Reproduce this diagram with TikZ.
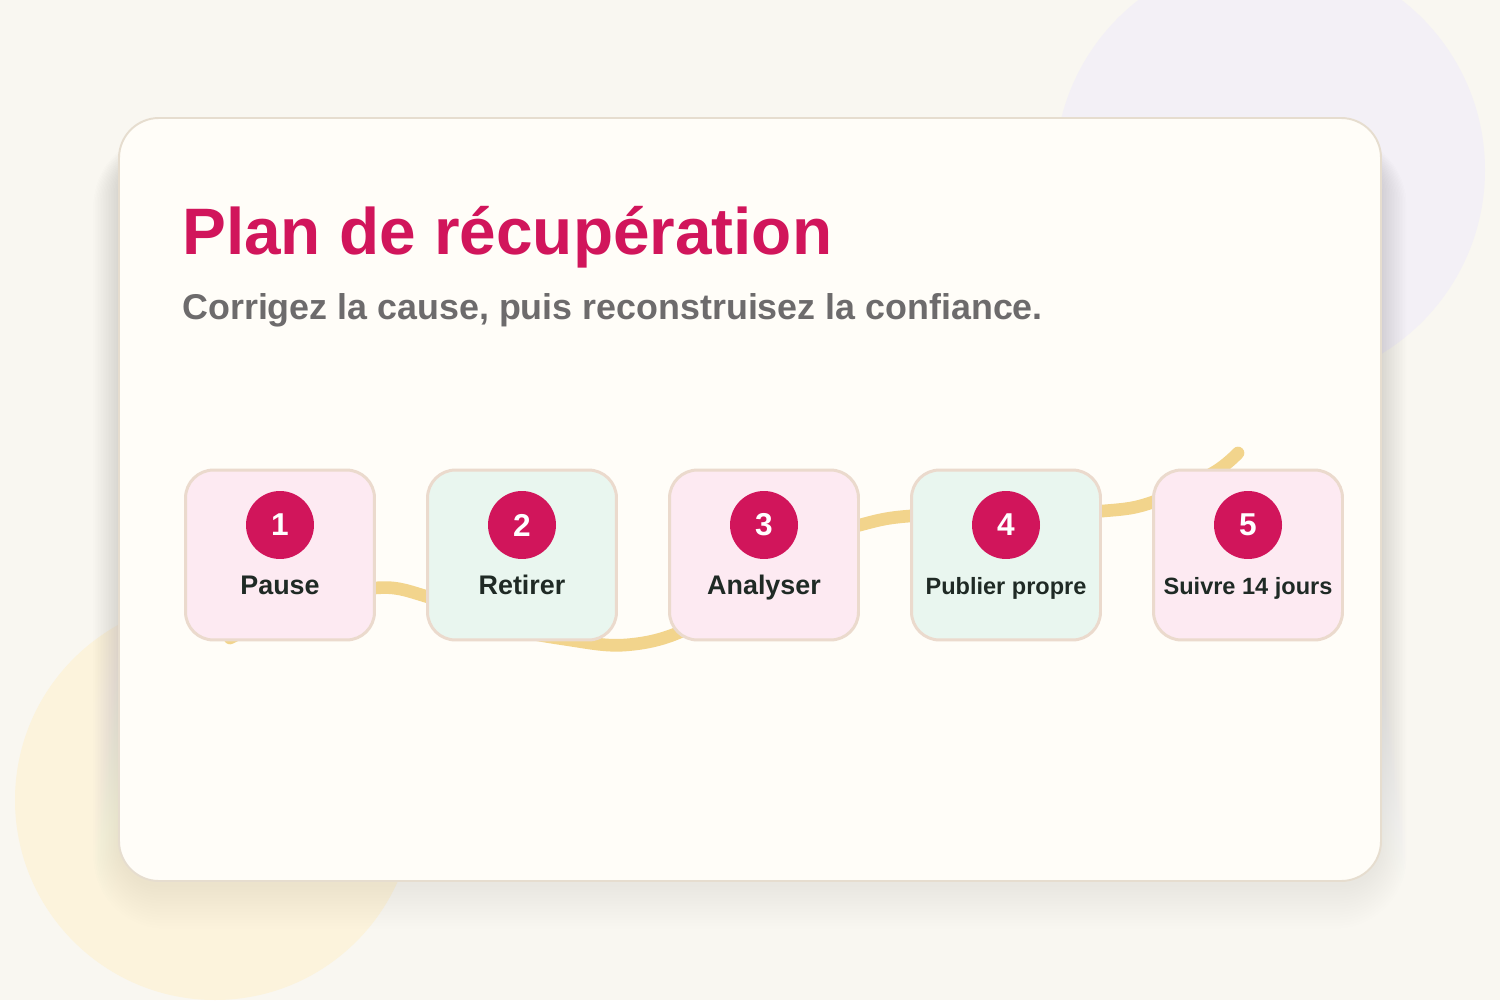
\documentclass[tikz,border=0pt]{standalone}
\usepackage{fontspec}
\setmainfont{Liberation Sans}

\definecolor{pagebg}{HTML}{F9F7F1}
\definecolor{lilac}{HTML}{F3F0F6}
\definecolor{cream}{HTML}{FCF3DC}
\definecolor{cardbg}{HTML}{FFFDF8}
\definecolor{cardline}{HTML}{E6DDCF}
\definecolor{shade}{HTML}{8C7A55}
\definecolor{rosebg}{HTML}{FDEAF2}
\definecolor{mintbg}{HTML}{E9F6EF}
\definecolor{boxline}{HTML}{EBDACD}
\definecolor{crimson}{HTML}{D1155B}
\definecolor{slate}{HTML}{6D6B6C}
\definecolor{ink}{HTML}{1F2A25}
\definecolor{honey}{HTML}{F2D48C}

\tikzset{
  stepbox/.style={draw=boxline, line width=1.7pt, rounded corners=0.56cm,
    minimum width=3.78cm, minimum height=3.4cm, inner sep=0pt},
  badge/.style={circle, fill=crimson, minimum size=1.36cm, inner sep=0pt,
    text=white, font=\bfseries\fontsize{18}{20}\selectfont},
  steplabel/.style={anchor=base, inner sep=0pt, text=ink,
    font=\bfseries\fontsize{15.3}{18}\selectfont},
  smalllabel/.style={anchor=base, inner sep=0pt, text=ink,
    font=\bfseries\fontsize{13.4}{16}\selectfont},
  wave/.style={honey, line width=7.2pt, line cap=round}
}

\begin{document}
\begin{tikzpicture}[x=0.02cm, y=-0.02cm]
    \useasboundingbox (0,0) rectangle (1500,1000);
    \clip (0,0) rectangle (1500,1000);

    % Draw page background and soft circles
    \fill[pagebg] (0,0) rectangle (1500,1000);
    \fill[lilac] (1270,170) circle (215);
    \fill[cream] (215,800) circle (200);

    % Draw card shadow and card
    \foreach \i in {1,...,16}
        \fill[shade, opacity=0.0045, rounded corners=0.8cm+\i*0.04cm]
            (119-\i*1.6,150-\i*1) rectangle (1381+\i*1.6,884+\i*2.8);
    \draw[cardline, fill=cardbg, line width=1.1pt, rounded corners=0.8cm]
        (119,118) rectangle (1381,881);

    % Title and subtitle
    \node[anchor=base west, inner sep=0pt, text=crimson,
        font=\bfseries\fontsize{37.4}{44}\selectfont] (title) at (182,255)
        {Plan de récupération};
    \node[anchor=base west, inner sep=0pt, text=slate,
        font=\bfseries\fontsize{20.4}{24}\selectfont] (subtitle) at (182,319)
        {Corrigez la cause, puis reconstruisez la confiance.};

    % Draw the wave behind the steps
    \draw[wave] plot[smooth, tension=0.6] coordinates {(230,638) (300,606)
        (375,588) (425,596) (500,626) (570,640) (625,645) (680,632) (740,595)
        (800,545) (860,525) (910,516) (1005,514) (1103,511) (1153,502)
        (1213,473) (1238,453)};

    % Draw step boxes
    \node[stepbox, fill=rosebg] (s1) at (280,555) {};
    \node[stepbox, fill=mintbg] (s2) at (522,555) {};
    \node[stepbox, fill=rosebg] (s3) at (764,555) {};
    \node[stepbox, fill=mintbg] (s4) at (1006,555) {};
    \node[stepbox, fill=rosebg] (s5) at (1248,555) {};

    % Number badges
    \node[badge] (b1) at (280,525) {1};
    \node[badge] (b2) at (522,525) {2};
    \node[badge] (b3) at (764,525) {3};
    \node[badge] (b4) at (1006,525) {4};
    \node[badge] (b5) at (1248,525) {5};

    % Step labels
    \node[steplabel] (l1) at (280,594) {Pause};
    \node[steplabel] (l2) at (522,594) {Retirer};
    \node[steplabel] (l3) at (764,594) {Analyser};
    \node[smalllabel] (l4) at (1006,594) {Publier propre};
    \node[smalllabel] (l5) at (1248,594) {Suivre 14 jours};
\end{tikzpicture}
\end{document}
